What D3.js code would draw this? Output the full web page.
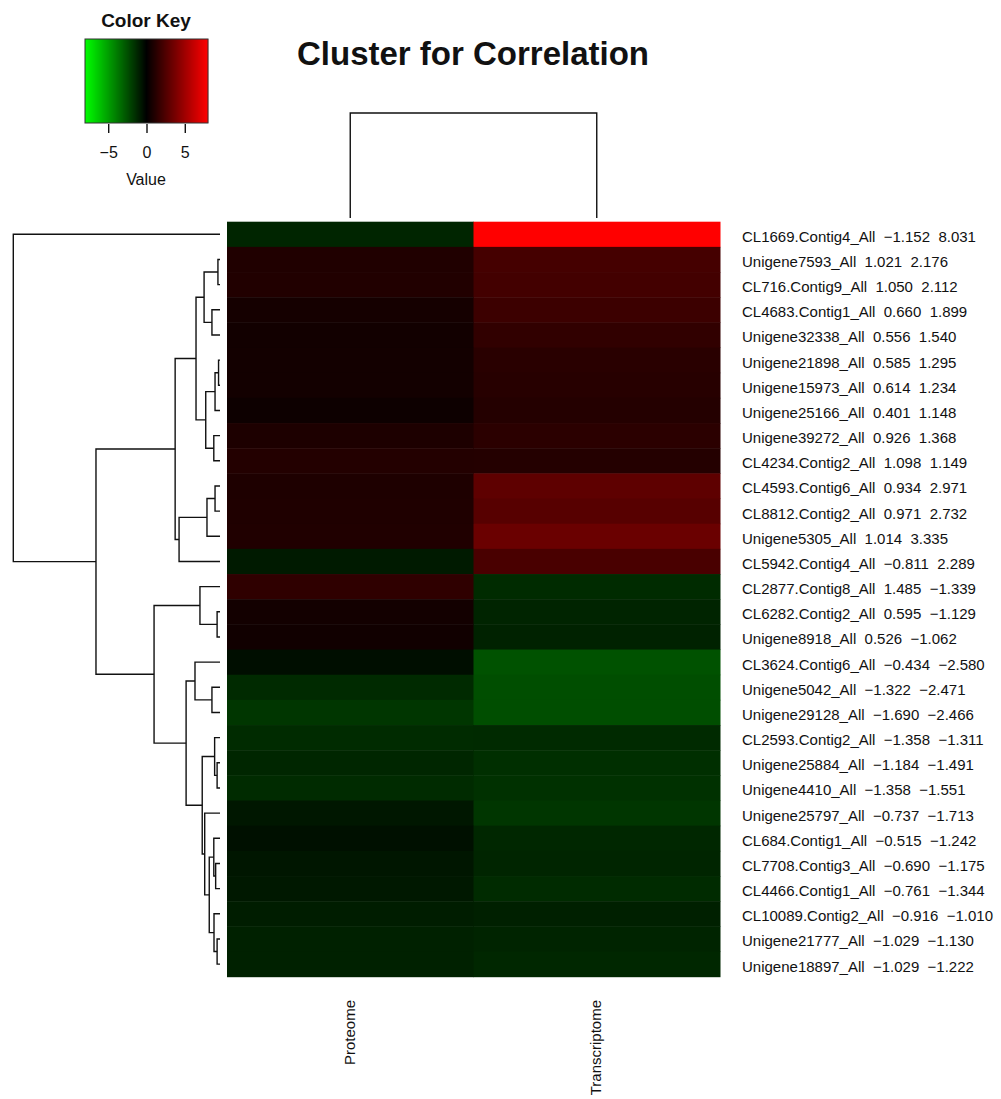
<!DOCTYPE html>
<html>
<head>
<meta charset="utf-8">
<script src="https://cdn.jsdelivr.net/npm/d3@7"></script>
<style>
  html, body { margin: 0; padding: 0; background: #fff; }
  svg { display: block; font-family: "Liberation Sans", Arial, Helvetica, sans-serif; }
  .lbl { white-space: pre; }
</style>
</head>
<body>
<svg id="chart" width="1001" height="1099"></svg>
<script>
// ---------------- data ----------------
const columns = ["Proteome", "Transcriptome"];
const rowNames = [
  "CL1669.Contig4_All", "Unigene7593_All", "CL716.Contig9_All", "CL4683.Contig1_All",
  "Unigene32338_All", "Unigene21898_All", "Unigene15973_All", "Unigene25166_All",
  "Unigene39272_All", "CL4234.Contig2_All", "CL4593.Contig6_All", "CL8812.Contig2_All",
  "Unigene5305_All", "CL5942.Contig4_All", "CL2877.Contig8_All", "CL6282.Contig2_All",
  "Unigene8918_All", "CL3624.Contig6_All", "Unigene5042_All", "Unigene29128_All",
  "CL2593.Contig2_All", "Unigene25884_All", "Unigene4410_All", "Unigene25797_All",
  "CL684.Contig1_All", "CL7708.Contig3_All", "CL4466.Contig1_All", "CL10089.Contig2_All",
  "Unigene21777_All", "Unigene18897_All"
];
const proteome = [
  -1.152, 1.021, 1.050, 0.660, 0.556, 0.585, 0.614, 0.401, 0.926, 1.098,
  0.934, 0.971, 1.014, -0.811, 1.485, 0.595, 0.526, -0.434, -1.322, -1.690,
  -1.358, -1.184, -1.358, -0.737, -0.515, -0.690, -0.761, -0.916, -1.029, -1.029
];
const transcriptome = [
  8.031, 2.176, 2.112, 1.899, 1.540, 1.295, 1.234, 1.148, 1.368, 1.149,
  2.971, 2.732, 3.335, 2.289, -1.339, -1.129, -1.062, -2.580, -2.471, -2.466,
  -1.311, -1.491, -1.551, -1.713, -1.242, -1.175, -1.344, -1.010, -1.130, -1.222
];
// row dendrogram: internal node = [height, left, right]; leaf = row index
const rowTree =
  [10.0, 0,
    [6.00,
      [2.17,
        [1.16,
          [0.77, [0.10, 1, 2], [0.39, 3, 4]],
          [0.69, [0.24, [0.07, 5, 6], 7], [0.30, 8, 9]]],
        [1.98, [0.63, [0.24, 10, 11], 12], 13]],
      [3.19,
        [0.97, 14, [0.14, 15, 16]],
        [1.64,
          [1.21, 17, [0.39, 18, 19]],
          [0.86,
            [0.26, 20, [0.14, 21, 22]],
            [0.74, 23,
              [0.52,
                [0.30, 24, [0.21, 25, 26]],
                [0.29, 27, [0.14, 28, 29]]]]]]]]];
// column dendrogram
const colTree = [1.0, 0, 1];
const keyTicks = [-5, 0, 5];
const keyRange = [-8.031, 8.031];
const title = "Cluster for Correlation";

// ---------------- layout ----------------
const svg = d3.select("#chart");
const hm = { left: 227, right: 720, top: 221.7, bottom: 976.7 };

const x = d3.scaleBand().domain(d3.range(columns.length)).range([hm.left, hm.right]);
const y = d3.scaleBand().domain(d3.range(rowNames.length)).range([hm.top, hm.bottom]);
const color = d3.scaleLinear()
  .domain([keyRange[0], 0, keyRange[1]])
  .range(["#00ff00", "#000000", "#ff0000"])
  .clamp(true);

const values = [proteome, transcriptome];
const cells = [];
rowNames.forEach((r, i) => columns.forEach((c, j) => cells.push({ i, j, v: values[j][i] })));

svg.append("g").selectAll("rect").data(cells).join("rect")
  .attr("x", d => x(d.j))
  .attr("y", d => y(d.i))
  .attr("width", x.bandwidth() + 0.5)
  .attr("height", y.bandwidth() + 0.5)
  .attr("fill", d => color(d.v));

// row labels
const fmt = d3.format(".3f");
svg.append("g").selectAll("text").data(rowNames).join("text")
  .attr("class", "lbl")
  .attr("x", 742)
  .attr("y", (d, i) => y(i) + y.bandwidth() / 2)
  .attr("dy", "0.5em")
  .attr("font-size", 15)
  .attr("fill", "#111")
  .text((d, i) => `${d}  ${fmt(proteome[i])}  ${fmt(transcriptome[i])}`);

// column labels
svg.append("g").selectAll("text").data(columns).join("text")
  .attr("transform", (d, j) => `translate(${x(j) + x.bandwidth() / 2 - 1},1000) rotate(-90)`)
  .attr("text-anchor", "end")
  .attr("dy", "0.35em")
  .attr("font-size", 15)
  .attr("fill", "#111")
  .text(d => d);

// ---------------- row dendrogram ----------------
const hx = d3.scaleLinear().domain([0, rowTree[0]]).range([220, 13.3]);
const dendroG = svg.append("g").attr("fill", "none").attr("stroke", "#111").attr("stroke-width", 1.4);
function layoutRow(node) {
  if (typeof node === "number") return { pos: y(node) + y.bandwidth() / 2, h: 0 };
  const a = layoutRow(node[1]), b = layoutRow(node[2]);
  const h = node[0];
  const pos = (a.pos + b.pos) / 2;
  dendroG.append("path").attr("d",
    `M${hx(a.h)},${a.pos}H${hx(h)}V${b.pos}H${hx(b.h)}`);
  return { pos, h };
}
layoutRow(rowTree);

// ---------------- column dendrogram ----------------
const hy = d3.scaleLinear().domain([0, colTree[0]]).range([218, 113]);
function layoutCol(node) {
  if (typeof node === "number") return { pos: x(node) + x.bandwidth() / 2, h: 0 };
  const a = layoutCol(node[1]), b = layoutCol(node[2]);
  const h = node[0];
  dendroG.append("path").attr("d",
    `M${a.pos},${hy(a.h)}V${hy(h)}H${b.pos}V${hy(b.h)}`);
  return { pos: (a.pos + b.pos) / 2, h };
}
layoutCol(colTree);

// ---------------- title ----------------
svg.append("text")
  .attr("x", 473).attr("y", 65)
  .attr("text-anchor", "middle")
  .attr("font-size", 33)
  .attr("font-weight", "bold")
  .attr("fill", "#111")
  .text(title);

// ---------------- color key ----------------
const key = { left: 85, right: 208, top: 39, bottom: 123 };
const kx = d3.scaleLinear().domain(keyRange).range([key.left, key.right]);
const keyG = svg.append("g");
const steps = d3.range(0, 123);
keyG.selectAll("rect").data(steps).join("rect")
  .attr("x", d => key.left + d)
  .attr("y", key.top)
  .attr("width", 1.2)
  .attr("height", key.bottom - key.top)
  .attr("fill", d => color(kx.invert(key.left + d + 0.5)));
keyG.append("rect")
  .attr("x", key.left).attr("y", key.top)
  .attr("width", key.right - key.left).attr("height", key.bottom - key.top)
  .attr("fill", "none").attr("stroke", "#333").attr("stroke-width", 1);

const axis = d3.axisBottom(kx).tickValues(keyTicks).tickSize(9).tickPadding(14);
const axG = keyG.append("g").attr("transform", `translate(0,${key.bottom + 1})`).call(axis);
axG.select(".domain").remove();
axG.selectAll(".tick line").attr("stroke", "#111").attr("stroke-width", 1.4);
axG.selectAll(".tick text").attr("font-size", 16).attr("fill", "#111")
  .attr("font-family", "Liberation Sans, Arial, sans-serif");

keyG.append("text")
  .attr("x", 146).attr("y", 27)
  .attr("text-anchor", "middle")
  .attr("font-size", 19).attr("font-weight", "bold").attr("fill", "#111")
  .text("Color Key");
keyG.append("text")
  .attr("x", 146).attr("y", 185)
  .attr("text-anchor", "middle")
  .attr("font-size", 16).attr("fill", "#111")
  .text("Value");
</script>
</body>
</html>
